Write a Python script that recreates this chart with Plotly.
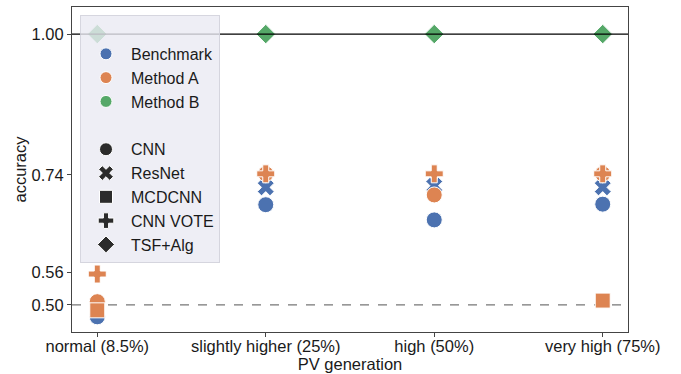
import plotly.graph_objects as go

categories = ["normal (8.5%)", "slightly higher (25%)", "high (50%)", "very high (75%)"]
methods = ["Benchmark", "Method A", "Method B"]
models = ["CNN", "ResNet", "MCDCNN", "CNN VOTE", "TSF+Alg"]

benchmark_cnn = [0.478, 0.685, 0.657, 0.686]
benchmark_resnet = [None, 0.717, 0.720, 0.717]
method_a_cnn = [0.506, 0.742, 0.703, 0.742]
method_a_mcdcnn = [0.490, None, None, 0.508]
method_a_cnn_vote = [0.557, 0.742, 0.742, 0.742]
method_b_tsf = [1.0, 1.0, 1.0, 1.0]

y_ticks = [0.50, 0.56, 0.74, 1.00]
y_tick_labels = ["0.50", "0.56", "0.74", "1.00"]

series = [
    ("Benchmark", "CNN", benchmark_cnn),
    ("Benchmark", "ResNet", benchmark_resnet),
    ("Method A", "CNN", method_a_cnn),
    ("Method A", "MCDCNN", method_a_mcdcnn),
    ("Method A", "CNN VOTE", method_a_cnn_vote),
    ("Method B", "TSF+Alg", method_b_tsf),
]

colors = {"Benchmark": "#4C72B0", "Method A": "#DD8452", "Method B": "#55A868"}
symbols = {"CNN": "circle", "ResNet": "x", "MCDCNN": "square", "CNN VOTE": "cross", "TSF+Alg": "diamond"}
sizes = {"CNN": 16, "ResNet": 15, "MCDCNN": 15, "CNN VOTE": 15, "TSF+Alg": 15}

FONT = "Liberation Sans, Arial, sans-serif"
TXT = "#1a1a1a"

fig = go.Figure()

for method, model, vals in series:
    fig.add_trace(go.Scatter(
        x=categories, y=vals, mode="markers", showlegend=False,
        marker=dict(symbol=symbols[model], size=sizes[model], color=colors[method],
                    line=dict(color="white", width=1)),
        hoverinfo="x+y", name=f"{method} {model}",
    ))

# legend entries
for m in methods:
    fig.add_trace(go.Scatter(x=[None], y=[None], mode="markers", name=m,
                             legendgroup="hue",
                             marker=dict(symbol="circle", size=12, color=colors[m],
                                         line=dict(color="white", width=1))))
for s in models:
    fig.add_trace(go.Scatter(x=[None], y=[None], mode="markers", name=s,
                             legendgroup="style",
                             marker=dict(symbol=symbols[s], size=13, color="#2b2b2b",
                                         line=dict(color="white", width=1))))

fig.add_hline(y=1.0, line=dict(color="black", width=1.3), layer="above")
fig.add_hline(y=0.5, line=dict(color="#777777", width=1.1, dash="dash"), layer="below")

fig.update_layout(
    width=681, height=374,
    margin=dict(l=72, r=53, t=7, b=42),
    paper_bgcolor="white", plot_bgcolor="white",
    font=dict(family=FONT, size=16, color=TXT),
    legend=dict(
        x=0.0144, y=0.975, xanchor="left", yanchor="top",
        bgcolor="rgba(234,234,242,0.8)", bordercolor="rgba(210,210,220,0.9)", borderwidth=1,
        font=dict(family=FONT, size=16, color=TXT),
        traceorder="grouped", tracegroupgap=24,
        title=dict(text=" ", font=dict(size=16)),
        itemwidth=40,
    ),
    xaxis=dict(
        type="category", categoryorder="array", categoryarray=categories,
        range=[-0.15, 3.15], showgrid=False, zeroline=False,
        showline=True, linecolor="#444444", linewidth=1, mirror=True,
        ticks="outside", ticklen=4, tickcolor="#444444",
        tickfont=dict(family=FONT, size=16.5, color=TXT),
        ticklabelstandoff=-5,
        title=dict(text="PV generation", font=dict(family=FONT, size=16.5, color=TXT), standoff=0),
        automargin=False,
    ),
    yaxis=dict(
        range=[0.45, 1.05], showgrid=False, zeroline=False,
        showline=True, linecolor="#444444", linewidth=1, mirror=True,
        ticks="outside", ticklen=4, tickcolor="#444444",
        tickvals=y_ticks, ticktext=y_tick_labels,
        tickfont=dict(family=FONT, size=16.5, color=TXT),
        title=dict(text="accuracy", font=dict(family=FONT, size=16.5, color=TXT), standoff=0),
        automargin=False,
    ),
)

fig.write_html("out.html")
